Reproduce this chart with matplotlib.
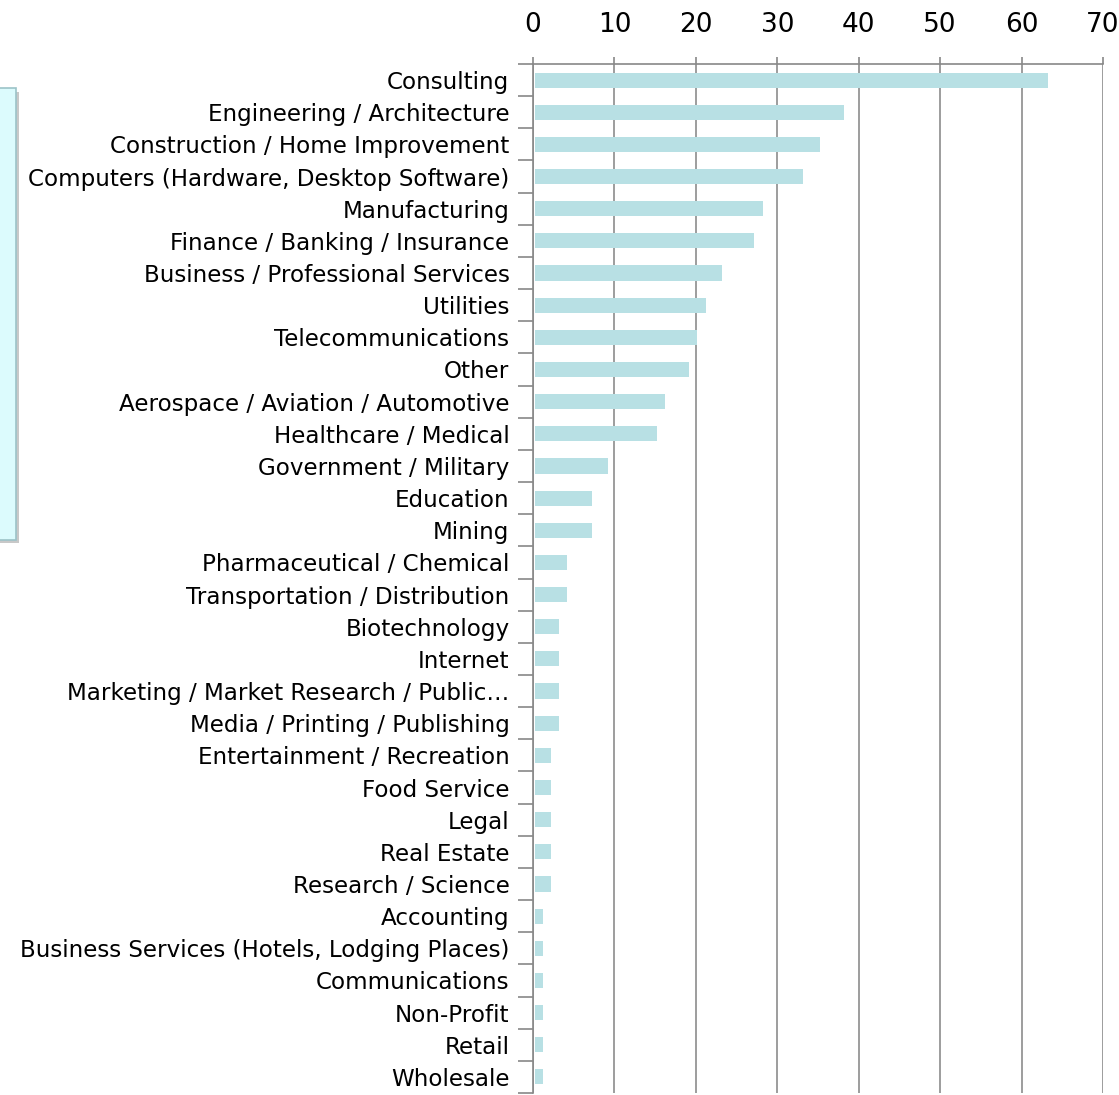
import matplotlib
matplotlib.use("Agg")
import matplotlib.pyplot as plt
from matplotlib.patches import Rectangle

categories = [
    "Consulting", "Engineering / Architecture", "Construction / Home Improvement",
    "Computers (Hardware, Desktop Software)", "Manufacturing", "Finance / Banking / Insurance",
    "Business / Professional Services", "Utilities", "Telecommunications", "Other",
    "Aerospace / Aviation / Automotive", "Healthcare / Medical", "Government / Military",
    "Education", "Mining", "Pharmaceutical / Chemical", "Transportation / Distribution",
    "Biotechnology", "Internet", "Marketing / Market Research / Public\u2026",
    "Media / Printing / Publishing", "Entertainment / Recreation", "Food Service", "Legal",
    "Real Estate", "Research / Science", "Accounting",
    "Business Services (Hotels, Lodging Places)", "Communications", "Non-Profit",
    "Retail", "Wholesale",
]
values = [63, 38, 35, 33, 28, 27, 23, 21, 20, 19, 16, 15, 9, 7, 7, 4, 4,
          3, 3, 3, 3, 2, 2, 2, 2, 2, 1, 1, 1, 1, 1, 1]
x_ticks = [0, 10, 20, 30, 40, 50, 60, 70]

plt.rcParams['font.family'] = ['DejaVu Sans']
W, H = 1119, 1095
fig = plt.figure(figsize=(W / 100, H / 100), dpi=100)
ax = fig.add_axes([533 / W, 1 - 1093 / H, (1103 - 533) / W, (1093 - 64) / H])

n = len(categories)
ypos = list(range(n))
ax.barh(ypos, values, height=0.47, left=0.2, color="#b8e0e4", zorder=3)
ax.set_ylim(n - 0.5, -0.5)
ax.set_xlim(0, 70)

ax.xaxis.tick_top()
ax.set_xticks(x_ticks)
ax.set_xticklabels([str(t) for t in x_ticks], fontsize=19)
ax.tick_params(axis='x', length=5, color="#888888", width=1.2, pad=14)
ax.grid(axis='x', color="#8c8c8c", linewidth=1.2, zorder=1)

ax.set_yticks(ypos)
ax.set_yticklabels(categories, fontsize=16.6)
ax.tick_params(axis='y', which='major', length=0, pad=17)
ax.set_yticks([i - 0.5 for i in range(n + 1)], minor=True)
ax.tick_params(axis='y', which='minor', length=11, color="#888888", width=1.2)

for s in ['right', 'bottom']:
    ax.spines[s].set_visible(False)
ax.spines['top'].set_color("#888888")
ax.spines['top'].set_linewidth(1.2)
ax.spines['left'].set_color("#888888")
ax.spines['left'].set_linewidth(1.2)

# partially visible text box at left edge (behind the labels)
shadow = Rectangle((-40 / W, 1 - 543 / H), 59 / W, (543 - 92) / H, transform=fig.transFigure,
                   facecolor="#c8c8c8", edgecolor="none", zorder=-2)
box = Rectangle((-40 / W, 1 - 540 / H), 56 / W, (540 - 88) / H, transform=fig.transFigure,
                facecolor="#dcfbfd", edgecolor="#9cc3c8", linewidth=1.2, zorder=-1)
fig.patches.extend([shadow, box])
ax.patch.set_alpha(0)

fig.savefig("out.png", dpi=100)
